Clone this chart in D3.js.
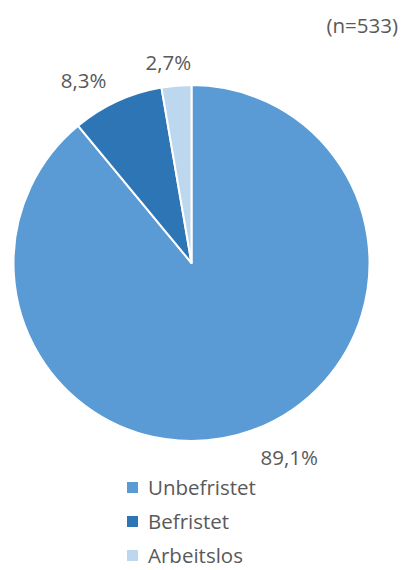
<!DOCTYPE html>
<html>
<head>
<meta charset="utf-8">
<script src="https://cdn.jsdelivr.net/npm/d3@7"></script>
<style>
  html, body { margin: 0; padding: 0; background: #fff; }
  svg { display: block; font-family: "Open Sans", sans-serif; }
</style>
</head>
<body>
<svg id="chart" width="405" height="570"></svg>
<script>
// Employment status shares (n = 533)
const categories = ["Unbefristet", "Befristet", "Arbeitslos"];
const shares = [89.1, 8.3, 2.7];
const colors = ["#5B9BD5", "#2E75B6", "#BDD7EE"];
const sampleNote = "(n=533)";

const svg = d3.select("#chart");
const textColor = "#595959";
const fontSize = 20.5;
const cx = 191.5, cy = 263, radius = 178;

const data = categories.map((c, i) => ({ name: c, value: shares[i], color: colors[i] }));

const pie = d3.pie().sort(null).value(d => d.value);
const arc = d3.arc().innerRadius(0).outerRadius(radius);
const arcs = pie(data);

const g = svg.append("g").attr("transform", `translate(${cx},${cy})`);

g.selectAll("path.slice")
  .data(arcs)
  .join("path")
  .attr("class", "slice")
  .attr("d", arc)
  .attr("fill", d => d.data.color)
  .attr("stroke", "#fff")
  .attr("stroke-width", 2)
  .attr("stroke-linejoin", "round");

// Value labels outside each slice end
const fmt = v => v.toFixed(1).replace(".", ",") + "%";
const labelR = 204;
g.selectAll("text.val")
  .data(arcs)
  .join("text")
  .attr("class", "val")
  .attr("font-size", fontSize)
  .attr("fill", textColor)
  .attr("text-anchor", "middle")
  .attr("dominant-baseline", "central")
  .text(d => fmt(d.data.value))
  .each(function(d) {
    const a = (d.startAngle + d.endAngle) / 2;
    const dx = Math.sin(a), dy = -Math.cos(a);
    const hw = this.getComputedTextLength() / 2;
    const shift = hw * Math.max(-1, Math.min(1, dx * 3));
    d3.select(this)
      .attr("x", dx * labelR + shift)
      .attr("y", dy * labelR + 2);
  });

// Sample size note
svg.append("text")
  .attr("x", 398)
  .attr("y", 25)
  .attr("text-anchor", "end")
  .attr("dominant-baseline", "central")
  .attr("font-size", fontSize)
  .attr("fill", textColor)
  .text(sampleNote);

// Legend (rows positioned by text baseline)
const legend = svg.append("g").attr("transform", "translate(127,495)");
const rowH = 34;
const item = legend.selectAll("g.item")
  .data(data)
  .join("g")
  .attr("class", "item")
  .attr("transform", (d, i) => `translate(0,${i * rowH})`);
item.append("rect")
  .attr("x", 0).attr("y", -13)
  .attr("width", 11).attr("height", 11)
  .attr("fill", d => d.color);
item.append("text")
  .attr("x", 21)
  .attr("y", 0)
  .attr("font-size", fontSize)
  .attr("fill", textColor)
  .text(d => d.name);
</script>
</body>
</html>
